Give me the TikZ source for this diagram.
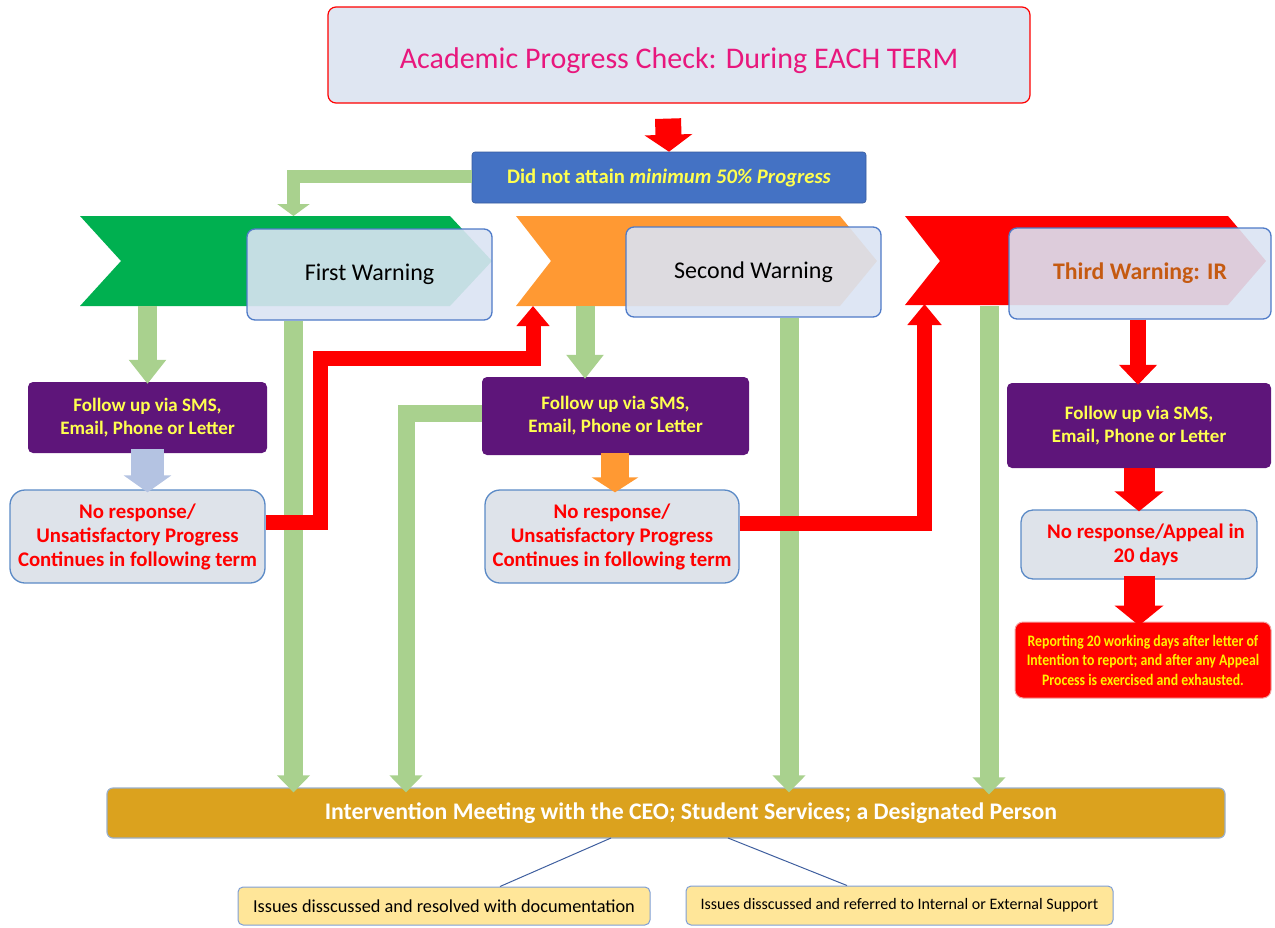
\documentclass[tikz,border=0pt]{standalone}
\usepackage{fontspec}
\setmainfont{Carlito}
\newfontfamily\condensed[FakeStretch=0.86]{Carlito}
\usetikzlibrary{arrows.meta}
\definecolor{titlefill}{HTML}{DFE6F2}
\definecolor{titletext}{HTML}{E8177D}
\definecolor{bluebox}{HTML}{4472C4}
\definecolor{yel}{HTML}{FFFF4F}
\definecolor{chevgreen}{HTML}{00B050}
\definecolor{chevorange}{HTML}{FF9933}
\definecolor{arrgreen}{HTML}{A9D18E}
\definecolor{purp}{HTML}{5E157A}
\definecolor{nrfill}{HTML}{DEE3EA}
\definecolor{nrborder}{HTML}{5B8AC6}
\definecolor{lblue}{HTML}{B4C3E2}
\definecolor{warnfill}{HTML}{DAE3F3}
\definecolor{warnborder}{HTML}{4F7BC8}
\definecolor{brown}{HTML}{C55A11}
\definecolor{gold}{HTML}{DBA21E}
\definecolor{goldborder}{HTML}{9AAFC9}
\definecolor{paleyel}{HTML}{FFE699}
\definecolor{paleborder}{HTML}{7F9FD6}
\definecolor{linkblue}{HTML}{3F5F9F}
\definecolor{reportborder}{HTML}{F4A0A0}
\newcommand{\fs}[2]{\fontsize{#1}{#2}\selectfont}
\tikzset{
  box/.style={inner sep=0pt, align=center},
  titlebox/.style={box, fill=titlefill, draw=red, line width=1.2pt, rounded corners=8pt,
    text=titletext, font=\fs{30}{34}},
  bluebox/.style={box, fill=bluebox, draw=bluebox!80!black, line width=0.6pt, rounded corners=3pt,
    text=yel, font=\fs{20.7}{24}\bfseries},
  warnbox/.style={box, fill=warnfill, fill opacity=0.9, text opacity=1, draw=warnborder, line width=1.3pt,
    rounded corners=8pt, font=\fs{24}{28}},
  fubox/.style={box, fill=purp, rounded corners=5pt, text=yel, font=\fs{19}{23}\bfseries},
  nrbox/.style={box, fill=nrfill, draw=nrborder, line width=1.3pt, rounded corners=15pt,
    text=red, font=\fs{20.8}{24}\bfseries},
  reportbox/.style={box, fill=red, draw=reportborder, line width=1pt, rounded corners=8pt,
    text=yellow, font=\condensed\fs{16}{19.5}\bfseries},
  intbox/.style={box, fill=gold, draw=goldborder, line width=1.2pt, rounded corners=6pt,
    text=white, font=\fs{23.8}{28}\bfseries},
  issuebox/.style={box, fill=paleyel, draw=paleborder, line width=1pt, rounded corners=5pt},
  longgreen/.style={draw=arrgreen, line width=19pt, -{Triangle[length=17pt,width=32pt]}},
  shortgreen/.style={draw=arrgreen, line width=19pt, -{Triangle[length=24pt,width=36pt]}},
  redelbow/.style={draw=red, line width=15pt, line join=miter, -{Triangle[length=20pt,width=32pt]}},
  reddown/.style={draw=red, line width=31pt, -{Triangle[length=20pt,width=48pt]}},
  link/.style={draw=linkblue, line width=1pt}
}
\begin{document}
\begin{tikzpicture}[x=1pt,y=-1pt]
\useasboundingbox (0,0) rectangle (1275,927);

% ---- top
\node[titlebox, minimum width=702pt, minimum height=96pt, text depth=0pt] (title) at (679,55)
  {\raisebox{-6pt}{Academic Progress Check: During EACH TERM}};
\node[bluebox, minimum width=394pt, minimum height=51pt] (didnot) at (669,177.5)
  {Did not attain \textit{minimum 50\% Progress}};
\draw[draw=red, line width=26pt, -{Triangle[length=17pt,width=47pt]}] (title.south -| didnot.north) ++(-1,15) coordinate (ta) -- (didnot.north);

% ---- chevrons
\fill[chevgreen] (80,216) -- (450,216) -- (492,261) -- (450,306) -- (80,306) -- (121,261) -- cycle;
\fill[chevorange] (516,216) -- (840,216) -- (877,261) -- (840,306) -- (516,306) -- (551,261) -- cycle;
\fill[red] (905,216) -- (1228,216) -- (1266,261) -- (1228,305) -- (905,305) -- (940,261) -- cycle;
\coordinate (chevg) at (293.5,216);
\coordinate (chevgb) at (147.5,306);
\coordinate (chevob) at (585,306);
\coordinate (chevobr) at (533,306);
\coordinate (chevrb) at (989,306);
\coordinate (chevrbl) at (924.5,306);

% green elbow from blue box to first chevron
\draw[draw=arrgreen, line width=13pt, line join=miter, -{Triangle[length=12pt,width=32pt]}]
  (didnot.west |- 0,176.5) -| (chevg);

% ---- warning boxes
\node[warnbox, minimum width=245pt, minimum height=91pt] (first) at (369.5,274.5) {First Warning};
\node[warnbox, minimum width=255pt, minimum height=90pt] (second) at (753.5,272) {Second Warning};
\node[warnbox, minimum width=262pt, minimum height=91pt, text=brown, font=\fs{23.8}{28}\bfseries] (third) at (1140,273.5) {Third Warning: IR};

% ---- follow-up boxes
\node[fubox, minimum width=239pt, minimum height=71pt] (fu1) at (147.5,417.5) {Follow up via SMS,\\Email, Phone or Letter};
\node[fubox, minimum width=267pt, minimum height=78pt] (fu2) at (615.5,416) {Follow up via SMS,\\Email, Phone or Letter};
\node[fubox, minimum width=264pt, minimum height=85pt] (fu3) at (1139,425.5) {Follow up via SMS,\\Email, Phone or Letter};

% ---- no response boxes
\node[nrbox, minimum width=255pt, minimum height=93pt] (nr1) at (137.5,536.5) {No response/\\Unsatisfactory Progress\\Continues in following term};
\node[nrbox, minimum width=254pt, minimum height=93pt] (nr2) at (612,536.5) {No response/\\Unsatisfactory Progress\\Continues in following term};
\node[nrbox, minimum width=236pt, minimum height=69pt, rounded corners=12pt] (nr3) at (1139,544.5) {\hspace*{14pt}No response/Appeal in\\\hspace*{14pt}20 days};
\node[reportbox, minimum width=256pt, minimum height=76pt] (report) at (1143,660)
  {Reporting 20 working days after letter of\\Intention to report; and after any Appeal\\Process is exercised and exhausted.};

% ---- intervention and issues
\node[intbox, minimum width=1118pt, minimum height=50pt] (interv) at (666,813)
  {\hspace*{50pt}Intervention Meeting with the CEO; Student Services; a Designated Person};
\node[issuebox, minimum width=412pt, minimum height=38pt, font=\fs{18.3}{21}] (iss1) at (444,906)
  {Issues disscussed and resolved with documentation};
\node[issuebox, minimum width=427pt, minimum height=39pt, font=\fs{16}{19}] (iss2) at (899.5,905.5)
  {Issues disscussed and referred to Internal or External Support};
\coordinate (l1a) at (611,838);
\coordinate (l2a) at (728,838);
\draw[link] (l1a) -- (iss1.north -| 500,0);
\draw[link] (l2a) -- (iss2.north -| 847,0);

% ---- short down arrows
\draw[shortgreen] (chevgb) -- ([yshift=-2pt]fu1.north);
\draw[shortgreen] (chevob) -- ([yshift=-2pt]fu2.north -| chevob);
\draw[draw=red, line width=16pt, -{Triangle[length=20pt,width=37pt]}] (third.south -| 1138,0) -- ([yshift=-2pt]fu3.north -| 1138,0);
\draw[draw=lblue, line width=33pt, -{Triangle[length=17pt,width=47pt]}] ([yshift=4pt]fu1.south) -- ([yshift=-3pt]nr1.north -| fu1.south);
\draw[draw=chevorange, line width=28pt, -{Triangle[length=15pt,width=46pt]}] ([yshift=2pt]fu2.south -| 615,0) -- ([yshift=-3pt]nr2.north -| 615,0);
\draw[reddown] (fu3.south) -- ([yshift=-2pt]nr3.north -| fu3.south);
\draw[reddown] ([yshift=4pt]nr3.south -| fu3.south) -- ([yshift=-4pt]report.north -| fu3.south);

% ---- long green arrows to intervention
\draw[longgreen] (first.south -| chevg) -- ([yshift=-5pt]interv.north -| chevg);
\coordinate (g2) at (406,413.5);
\draw[longgreen, line width=17pt, line join=miter] (fu2.west |- g2) -- (g2) -- ([yshift=-5pt]interv.north -| g2);
\draw[longgreen] (second.south -| 789,0) -- ([yshift=-5pt]interv.north -| 789,0);
\draw[longgreen] (chevrb) -- ([yshift=-7pt]interv.north -| chevrb);

% ---- red elbow arrows
\draw[redelbow] (nr1.east |- 0,522.5) -- (320.5,522.5) -- (320.5,358.5) -- (533,358.5) -- (chevobr);
\draw[redelbow, -{Triangle[length=21pt,width=33pt]}] (nr2.east |- 0,523) -| ([yshift=2pt]chevrbl);
\end{tikzpicture}
\end{document}
